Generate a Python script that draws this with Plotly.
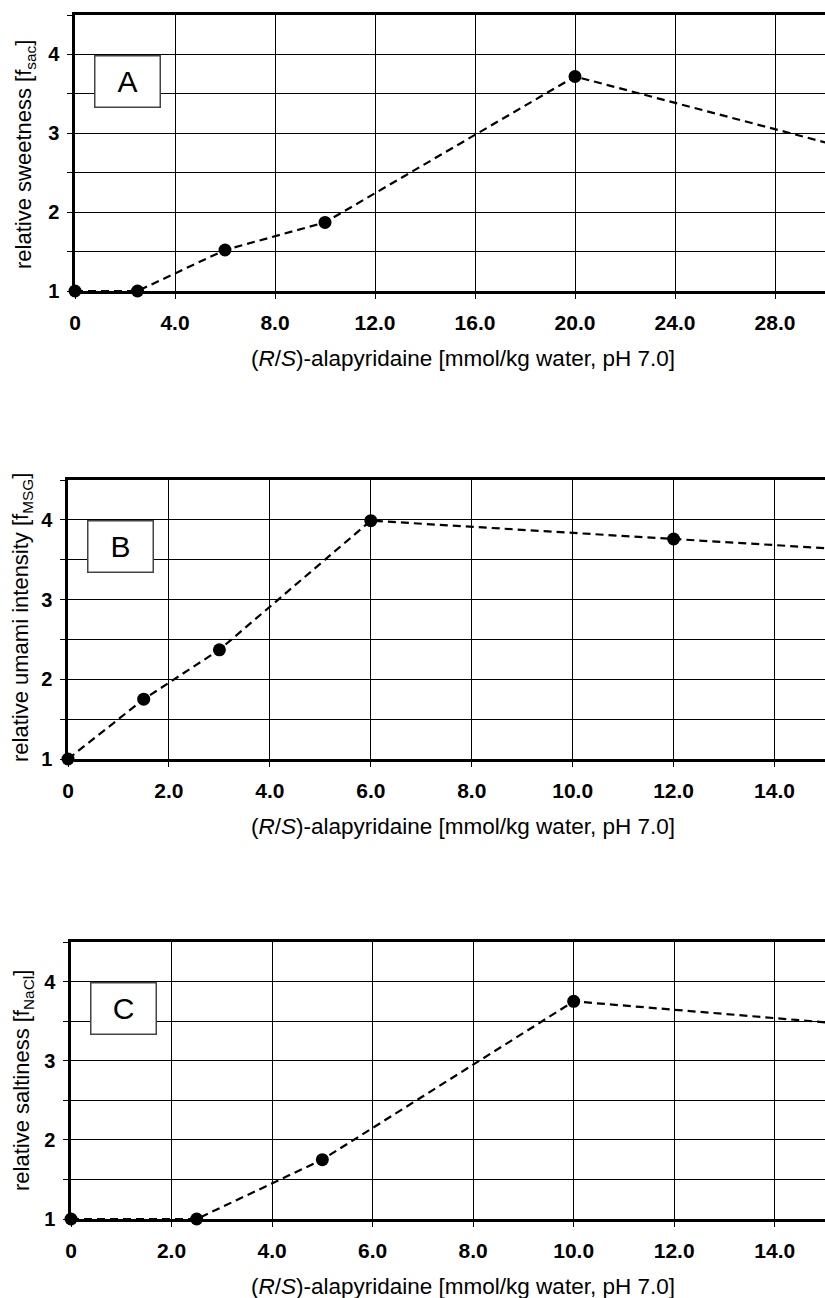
import plotly.graph_objects as go

# ---------------- data ----------------
# Panel A: relative sweetness
a_x = [0, 2.5, 6, 10, 20, 40]
a_y = [1.0, 1.0, 1.52, 1.87, 3.72, 2.05]
# Panel B: relative umami intensity
b_x = [0, 1.5, 3, 6, 12, 24]
b_y = [1.0, 1.75, 2.37, 3.99, 3.76, 3.30]
# Panel C: relative saltiness
c_x = [0, 2.5, 5, 10, 20]
c_y = [1.0, 1.0, 1.75, 3.75, 3.22]

a_xticks = [0, 4, 8, 12, 16, 20, 24, 28]
a_xlabels = ["0", "4.0", "8.0", "12.0", "16.0", "20.0", "24.0", "28.0"]
bc_xticks = [0, 2, 4, 6, 8, 10, 12, 14]
bc_xlabels = ["0", "2.0", "4.0", "6.0", "8.0", "10.0", "12.0", "14.0"]
yticks = [1, 2, 3, 4]
ylabels = ["1", "2", "3", "4"]

panel_labels = ["A", "B", "C"]
y_titles = ["relative sweetness [f<sub>sac</sub>]",
            "relative umami intensity [f<sub>MSG</sub>]",
            "relative saltiness [f<sub>NaCl</sub>]"]
x_title = "(<i>R</i>/<i>S</i>)-alapyridaine [mmol/kg water, pH 7.0]"

FONT = "Liberation Sans, Arial, sans-serif"
W, H = 825, 1298

# pixel layout of each panel (left, top, bottom) and title positions
panels = [
    dict(x=a_x, y=a_y, xr=[0, 30], xt=a_xticks, xl=a_xlabels, left=75, top=15, bottom=291,
         ytx=25, yty=155),
    dict(x=b_x, y=b_y, xr=[0, 15], xt=bc_xticks, xl=bc_xlabels, left=68, top=480, bottom=759,
         ytx=22, yty=618),
    dict(x=c_x, y=c_y, xr=[0, 15], xt=bc_xticks, xl=bc_xlabels, left=71, top=942, bottom=1219,
         ytx=23, yty=1081),
]
XTITLE_X = 463      # px, horizontal centre of the x-axis titles
XTITLE_DY = 67      # px below the x axis

fig = go.Figure()
layout = dict(
    width=W, height=H,
    margin=dict(l=0, r=0, t=0, b=0, autoexpand=False),
    paper_bgcolor="white", plot_bgcolor="white",
    showlegend=False,
    font=dict(family=FONT, color="black"),
    annotations=[],
)

for i, p in enumerate(panels):
    n = "" if i == 0 else str(i + 1)
    fig.add_trace(go.Scatter(
        x=p["x"], y=p["y"], xaxis="x" + n, yaxis="y" + n,
        mode="lines+markers",
        line=dict(color="black", width=2.2, dash="8px,5px"),
        marker=dict(color="black", size=13),
        cliponaxis=False,
    ))
    xd = [p["left"] / W, 1.0]
    yd = [1 - p["bottom"] / H, 1 - p["top"] / H]
    layout["xaxis" + n] = dict(
        domain=xd, range=p["xr"], anchor="y" + n, automargin=False,
        tickmode="array", tickvals=p["xt"], ticktext=p["xl"],
        tickfont=dict(family=FONT, size=21, weight="bold"),
        ticks="outside", ticklen=5, tickwidth=1, tickcolor="black",
        ticklabelstandoff=6,
        showgrid=True, gridcolor="black", gridwidth=1,
        showline=True, linecolor="black", linewidth=2.5, mirror=True,
        zeroline=False,
    )
    layout["yaxis" + n] = dict(
        domain=yd, range=[1, 4.5], anchor="x" + n, automargin=False,
        tickmode="array", tickvals=yticks, ticktext=ylabels,
        tickfont=dict(family=FONT, size=20, weight="bold"),
        ticks="outside", ticklen=5, tickwidth=1, tickcolor="black",
        ticklabelstandoff=4,
        showgrid=True, gridcolor="black", gridwidth=1,
        minor=dict(tick0=1, dtick=0.5, ticks="outside", ticklen=5, tickcolor="black",
                   showgrid=True, gridcolor="black", gridwidth=1),
        showline=True, linecolor="black", linewidth=2.5, mirror=False,
        zeroline=False,
    )
    # panel letter box
    layout["annotations"].append(dict(
        text=panel_labels[i], xref="x" + n + " domain", yref="y" + n + " domain",
        x=0.025, y=0.855, xanchor="left", yanchor="top",
        showarrow=False, font=dict(family=FONT, size=30, color="black"),
        bgcolor="white", bordercolor="#444", borderwidth=1.5,
        width=62, height=48, borderpad=1,
    ))
    # x-axis title
    layout["annotations"].append(dict(
        text=x_title, xref="paper", yref="paper",
        x=XTITLE_X / W, y=1 - (p["bottom"] + XTITLE_DY) / H,
        xanchor="center", yanchor="middle", showarrow=False,
        font=dict(family=FONT, size=22.5, color="black"),
    ))
    # y-axis title
    layout["annotations"].append(dict(
        text=y_titles[i], xref="paper", yref="paper",
        x=p["ytx"] / W, y=1 - p["yty"] / H, textangle=-90,
        xanchor="center", yanchor="middle", showarrow=False,
        font=dict(family=FONT, size=22, color="black"),
    ))

fig.update_layout(**layout)
fig.write_html("out.html", config={"displayModeBar": False})

# remove the default page margin so the figure sits at the window origin
with open("out.html", encoding="utf-8") as f:
    html = f.read()
html = html.replace("<body>", '<body style="margin:0;padding:0;overflow:hidden">', 1)
html = html.replace("<head>", '<head><style>html,body{margin:0;padding:0;overflow:hidden}</style>', 1)
with open("out.html", "w", encoding="utf-8") as f:
    f.write(html)
